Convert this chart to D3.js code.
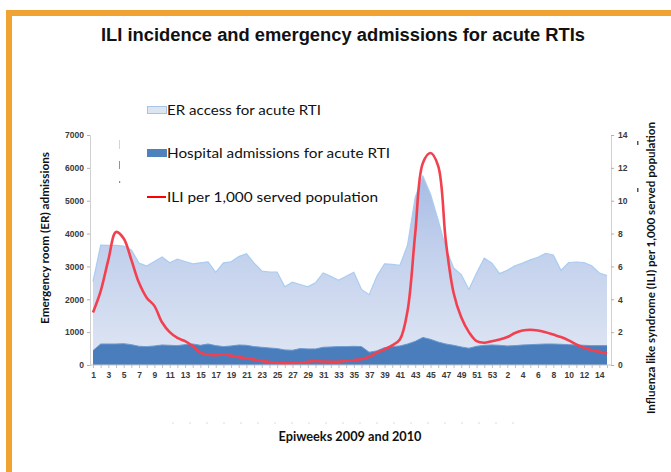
<!DOCTYPE html>
<html lang="en">
<head>
<meta charset="UTF-8">
<script src="https://d3js.org/d3.v7.min.js"></script>
<title>ILI incidence</title>
<style>
  body { margin: 0; background: #fff; }
  svg { display: block; }
</style>
</head>
<body>
<svg id="chart" width="671" height="472"></svg>
<script>
// epiweeks 2009 (1-53) then 2010 (1-15)
const weeks = [1,2,3,4,5,6,7,8,9,10,11,12,13,14,15,16,17,18,19,20,21,22,23,24,25,26,27,
  28,29,30,31,32,33,34,35,36,37,38,39,40,41,42,43,44,45,46,47,48,49,50,51,52,53,
  1,2,3,4,5,6,7,8,9,10,11,12,13,14,15];

// ER access for acute RTI
const erAccess = [2535,3650,3640,3640,3620,3500,3100,3010,3150,3290,3110,3220,3150,3080,3110,3140,
  2820,3110,3140,3300,3390,3100,2860,2830,2830,2380,2520,2450,2380,2500,2800,2700,2580,2700,2820,
  2300,2140,2700,3080,3060,3030,3650,5100,5750,5200,4400,3550,2950,2750,2300,2800,3250,3100,2780,
  2880,3020,3100,3200,3280,3400,3350,2880,3120,3135,3120,3020,2800,2720];

// Hospital admissions for acute RTI
const hospital = [440,640,640,640,650,620,570,560,580,610,600,590,620,640,600,640,590,560,580,610,
  600,560,540,520,500,460,450,500,490,490,540,550,560,560,570,560,390,430,530,560,580,640,720,840,
  780,700,640,600,550,510,570,600,610,600,580,590,610,620,630,640,640,630,620,610,600,590,590,590];

// ILI per 1,000 served population
const ili = [3.2,4.5,6.4,8.1,7.7,6.4,5.0,4.1,3.6,2.6,2.0,1.65,1.45,1.15,0.75,0.62,0.6,0.65,0.57,
  0.48,0.41,0.33,0.25,0.18,0.13,0.1,0.12,0.14,0.2,0.24,0.21,0.2,0.2,0.26,0.3,0.35,0.5,0.75,0.95,
  1.2,1.55,3.3,8.0,12.3,12.9,12.1,7.5,4.4,2.9,2.0,1.45,1.35,1.45,1.55,1.7,1.95,2.1,2.15,2.1,2.0,
  1.85,1.7,1.5,1.25,1.05,0.9,0.8,0.7];

const erTicks = [0,1000,2000,3000,4000,5000,6000,7000];
const iliTicks = [0,2,4,6,8,10,12,14];

const svg = d3.select("svg#chart");
const plotTop = 135, plotBottom = 365, plotLeft = 90, plotRight = 611;

const idx = weeks.map((d, i) => i);
const x = d3.scalePoint().domain(idx).range([93, 607]);
const yER = d3.scaleLinear().domain([0, 7000]).range([plotBottom, plotTop]);
const yILI = d3.scaleLinear().domain([0, 14]).range([plotBottom, plotTop]);

// orange frame
svg.append("rect").attr("x", 6).attr("y", 10).attr("width", 665).attr("height", 6).attr("fill", "#f0a232");
svg.append("rect").attr("x", 6).attr("y", 10).attr("width", 6).attr("height", 462).attr("fill", "#f0a232");

// title
svg.append("text")
   .attr("x", 343).attr("y", 41)
   .attr("text-anchor", "middle")
   .attr("font-family", "Liberation Sans, Arial, sans-serif")
   .attr("font-weight", "bold").attr("font-size", 18)
   .attr("textLength", 484).attr("lengthAdjust", "spacingAndGlyphs")
   .attr("fill", "#111")
   .text("ILI incidence and emergency admissions for acute RTIs");

const defs = svg.append("defs");
const grad = defs.append("linearGradient").attr("id", "erGrad")
   .attr("gradientUnits", "userSpaceOnUse")
   .attr("x1", 0).attr("y1", plotTop).attr("x2", 0).attr("y2", plotBottom);
grad.append("stop").attr("offset", "0%").attr("stop-color", "#98b1e0");
grad.append("stop").attr("offset", "50%").attr("stop-color", "#c2d0ec");
grad.append("stop").attr("offset", "100%").attr("stop-color", "#e0e7f4");

const areaER = d3.area().x((d, i) => x(i)).y0(plotBottom).y1(d => yER(d));
const lineER = d3.line().x((d, i) => x(i)).y(d => yER(d));

svg.append("path").datum(erAccess)
   .attr("d", areaER).attr("fill", "url(#erGrad)");
svg.append("path").datum(erAccess)
   .attr("d", lineER).attr("fill", "none").attr("stroke", "#a9ccf2").attr("stroke-width", 1.2);

svg.append("path").datum(hospital)
   .attr("d", areaER).attr("fill", "#4a7dbb");
svg.append("path").datum(hospital)
   .attr("d", lineER).attr("fill", "none").attr("stroke", "#6d9ad0").attr("stroke-width", 1);

const lineILI = d3.line().x((d, i) => x(i)).y(d => yILI(d)).curve(d3.curveCatmullRom.alpha(0.5));
svg.append("path").datum(ili)
   .attr("d", lineILI).attr("fill", "none")
   .attr("stroke", "#f2404f").attr("stroke-width", 2.6);

// axes
const tickFont = g => g.selectAll("text")
   .attr("font-family", "Liberation Sans, Arial, sans-serif")
   .attr("font-weight", "bold").attr("font-size", 8.5).attr("fill", "#3a3a3a");

const axL = svg.append("g").attr("transform", `translate(${plotLeft},0)`)
   .call(d3.axisLeft(yER).tickValues(erTicks).tickFormat(d3.format("d")).tickSize(3).tickPadding(3));
axL.call(tickFont);
axL.select(".domain").attr("stroke", "#d0d0d0");
axL.selectAll(".tick line").attr("stroke", "#b0b0b0");

const axR = svg.append("g").attr("transform", `translate(${plotRight},0)`)
   .call(d3.axisRight(yILI).tickValues(iliTicks).tickSize(3).tickPadding(4));
axR.call(tickFont);
axR.select(".domain").attr("stroke", "#d0d0d0");
axR.selectAll(".tick line").attr("stroke", "#b0b0b0");

const axB = svg.append("g").attr("transform", `translate(0,${plotBottom})`)
   .call(d3.axisBottom(x).tickSize(3).tickPadding(4).tickSizeOuter(0)
     .tickFormat(i => i % 2 === 0 ? weeks[i] : ""));
axB.call(tickFont);
axB.select(".domain").attr("stroke", "#c8c8c8").attr("d", `M${plotLeft},0H${plotRight}`);
axB.selectAll(".tick line").attr("stroke", "#c0c0c0");

// axis titles
svg.append("text")
   .attr("transform", "translate(49,238) rotate(-90)")
   .attr("text-anchor", "middle")
   .attr("font-family", "Lato, sans-serif").attr("font-weight", "bold").attr("font-size", 10.5)
   .attr("textLength", 172).attr("lengthAdjust", "spacingAndGlyphs")
   .attr("fill", "#111")
   .text("Emergency room (ER) admissions");

svg.append("text")
   .attr("transform", "translate(655,268) rotate(-90)")
   .attr("text-anchor", "middle")
   .attr("font-family", "Lato, sans-serif").attr("font-weight", "bold").attr("font-size", 10.5)
   .attr("textLength", 292).attr("lengthAdjust", "spacingAndGlyphs")
   .attr("fill", "#111")
   .text("Influenza like syndrome (ILI) per 1,000 served population");

svg.append("text")
   .attr("x", 350).attr("y", 441)
   .attr("text-anchor", "middle")
   .attr("font-family", "Lato, sans-serif").attr("font-weight", "bold").attr("font-size", 12.5)
   .attr("textLength", 143).attr("lengthAdjust", "spacingAndGlyphs")
   .attr("fill", "#111")
   .text("Epiweeks 2009 and 2010");

// faint leftover dashes under the axis
svg.append("line")
   .attr("x1", 172).attr("x2", 518).attr("y1", 423).attr("y2", 423)
   .attr("stroke", "#dcdcdc").attr("stroke-width", 1).attr("stroke-dasharray", "2,15");

// legend
const legendItems = [
  {name: "ER access for acute RTI", y: 115, w: 154, kind: "er"},
  {name: "Hospital admissions for acute RTI", y: 158, w: 223, kind: "hosp"},
  {name: "ILI per 1,000 served population", y: 202, w: 211, kind: "ili"}
];
const legend = svg.append("g");
legendItems.forEach(d => {
  if (d.kind === "er") {
    legend.append("rect").attr("x", 147.5).attr("y", d.y - 8.5).attr("width", 19).attr("height", 7)
      .attr("fill", "#dce6f3").attr("stroke", "#a8c3e8").attr("stroke-width", 1);
  } else if (d.kind === "hosp") {
    legend.append("rect").attr("x", 147).attr("y", d.y - 9).attr("width", 20).attr("height", 8)
      .attr("fill", "#4f81bd");
  } else {
    legend.append("line").attr("x1", 147).attr("x2", 166).attr("y1", d.y - 5).attr("y2", d.y - 5)
      .attr("stroke", "#ff0000").attr("stroke-width", 2);
  }
  legend.append("text")
    .attr("x", 167).attr("y", d.y)
    .attr("font-family", "Lato, sans-serif").attr("font-size", 14)
    .attr("textLength", d.w).attr("lengthAdjust", "spacingAndGlyphs")
    .attr("fill", "#111")
    .text(d.name);
});

// small leftover marks of a hidden legend
svg.append("rect").attr("x", 119).attr("y", 140).attr("width", 1).attr("height", 9).attr("fill", "#c6d6ee");
svg.append("rect").attr("x", 119).attr("y", 161).attr("width", 1).attr("height", 8).attr("fill", "#6f98cc");
svg.append("rect").attr("x", 119).attr("y", 181).attr("width", 1.2).attr("height", 2).attr("fill", "#f06070");
svg.append("rect").attr("x", 637).attr("y", 141).attr("width", 1.5).attr("height", 4).attr("fill", "#555");
svg.append("rect").attr("x", 637).attr("y", 188).attr("width", 1.5).attr("height", 4).attr("fill", "#555");
</script>
</body>
</html>
